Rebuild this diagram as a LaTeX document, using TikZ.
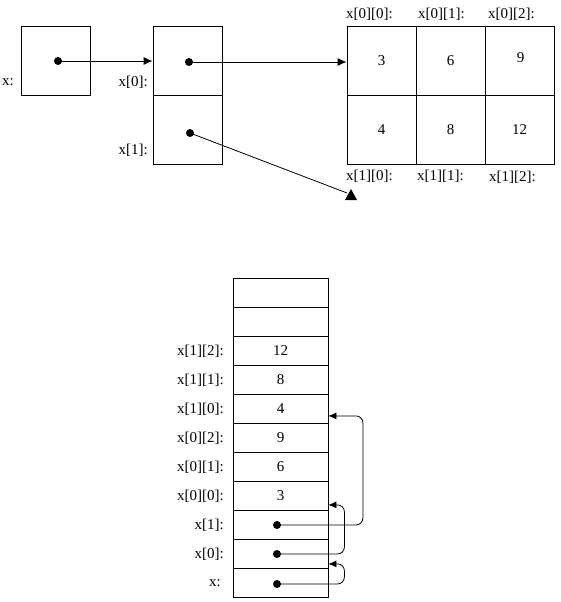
\documentclass[tikz,border=0pt]{standalone}
\usepackage{fontspec}
\setmainfont{Liberation Serif}
\usetikzlibrary{arrows.meta,calc}
\begin{document}
\begin{tikzpicture}[x=1pt,y=-1pt,
  cell/.style={draw,line width=0.8pt,minimum width=69pt,minimum height=69pt,inner sep=0pt},
  scell/.style={draw,line width=0.8pt,minimum width=95pt,minimum height=29pt,inner sep=0pt,font=\fontsize{15}{15}\selectfont},
  dot/.style={circle,fill=black,inner sep=0pt,minimum size=8pt},
  lbl/.style={inner sep=0pt,font=\fontsize{15}{15}\selectfont},
  val/.style={inner sep=0pt,font=\fontsize{15}{15}\selectfont},
  conn/.style={line width=0.8pt},
  bigtip/.style={conn,-{Latex[length=9pt,width=8pt]}},
  smalltip/.style={conn,-{Latex[length=8pt,width=7pt]},rounded corners=7pt}]
\useasboundingbox (0,0) rectangle (560,602);
% ---- top part ----
\node[cell] (bx) at (55.5,60.5) {};
\node[cell] (b0) at (187.5,60.5) {};
\node[cell] (b1) at (187.5,129.5) {};
\node[dot] (dx) at (58,61) {};
\node[dot] (d0) at (189,62) {};
\node[dot] (d1) at (190,133) {};
\node[lbl,anchor=west] (lx) at (2,82) {x:};
\node[lbl,anchor=east] (l0) at (148,82) {x[0]:};
\node[lbl,anchor=east] (l1) at (148,150) {x[1]:};
% grid
\node[cell] (g00) at (381.5,60.5) {};
\node[cell] (g01) at (450.5,60.5) {};
\node[cell] (g02) at (519.5,60.5) {};
\node[cell] (g10) at (381.5,129.5) {};
\node[cell] (g11) at (450.5,129.5) {};
\node[cell] (g12) at (519.5,129.5) {};
\node[val] at (g00) {3};
\node[val] at (g01) {6};
\node[val] at ($(g02)+(1,-3)$) {9};
\node[val] at (g10) {4};
\node[val] at (g11) {8};
\node[val] at (g12) {12};
\node[lbl,anchor=west] (t00) at (346,14) {x[0][0]:};
\node[lbl,anchor=west] (t01) at (418,14) {x[0][1]:};
\node[lbl,anchor=west] (t02) at (488,14) {x[0][2]:};
\node[lbl,anchor=west] (t10) at (346,176) {x[1][0]:};
\node[lbl,anchor=west] (t11) at (417,176) {x[1][1]:};
\node[lbl,anchor=west] (t12) at (489,177) {x[1][2]:};
\draw[bigtip] (dx.center) -- (dx.center -| b0.west);
\draw[bigtip] (d0.center) -- (d0.center -| g00.west);
\coordinate (tip) at (351,189);
\draw[conn] (d1.center) -- (347,193);
\fill (tip) -- (345,200) -- (357,200) -- cycle;
% ---- bottom part ----
\node[scell] (r0) at (280.5,293) {};
\node[scell] (r1) at (280.5,322) {};
\node[scell] (r2) at (280.5,351) {12};
\node[scell] (r3) at (280.5,380) {8};
\node[scell] (r4) at (280.5,409) {4};
\node[scell] (r5) at (280.5,438) {9};
\node[scell] (r6) at (280.5,467) {6};
\node[scell] (r7) at (280.5,496) {3};
\node[scell] (r8) at (280.5,525) {};
\node[scell] (r9) at (280.5,554) {};
\node[scell] (r10) at (280.5,583) {};
\node[lbl,anchor=east] at (224,351) {x[1][2]:};
\node[lbl,anchor=east] at (224,380) {x[1][1]:};
\node[lbl,anchor=east] at (224,409) {x[1][0]:};
\node[lbl,anchor=east] at (224,438) {x[0][2]:};
\node[lbl,anchor=east] at (224,467) {x[0][1]:};
\node[lbl,anchor=east] at (224,496) {x[0][0]:};
\node[lbl,anchor=east] at (224,525) {x[1]:};
\node[lbl,anchor=east] at (224,554) {x[0]:};
\node[lbl,anchor=east] at (221,583) {x:};
\node[dot] (e1) at (277,525) {};
\node[dot] (e0) at (277,554) {};
\node[dot] (ex) at (277,584) {};
\coordinate (a1) at ($(r4.south east)+(0,-8)$);
\coordinate (a0) at ($(r7.south east)+(0,-6)$);
\coordinate (ax) at ($(r9.south east)+(0,-5)$);
\draw[smalltip] (e1.center) -| ($(a1)+(34.5,0)$) -- (a1);
\draw[smalltip] (e0.center) -| ($(a0)+(16,0)$) -- (a0);
\draw[smalltip] (ex.center) -| ($(ax)+(16,0)$) -- (ax);
\end{tikzpicture}
\end{document}
